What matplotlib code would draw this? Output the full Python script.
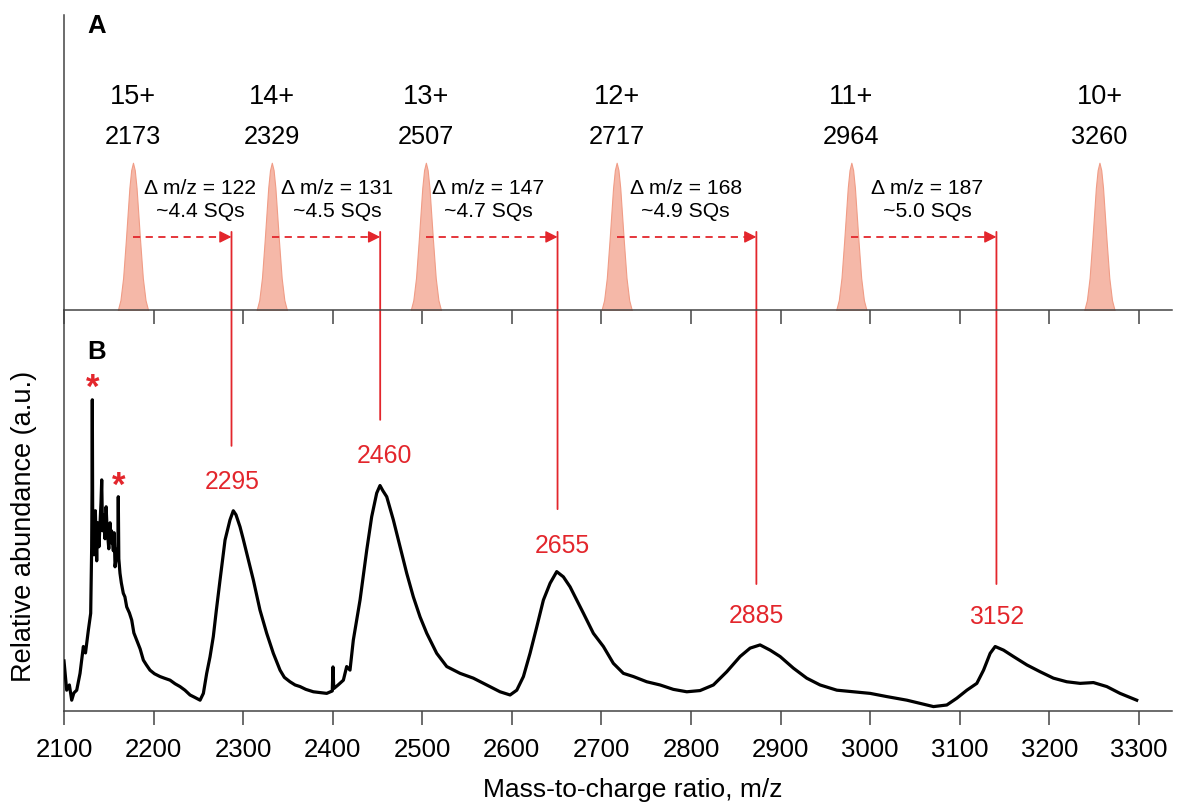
import numpy as np
import matplotlib.pyplot as plt
from matplotlib.patches import ConnectionPatch

plt.rcParams['font.family'] = ['Liberation Sans', 'DejaVu Sans']

RED = '#e3262c'
AXC = '#444444'

# panel A: theoretical charge-state peaks
charges = ['15+', '14+', '13+', '12+', '11+', '10+']
peak_labels = ['2173', '2329', '2507', '2717', '2964', '3260']
peak_mz = [2177, 2332, 2504, 2717, 2979, 3256]
peak_height = 0.5
prof_dx = [-17, -14, -11, -8, -6, -4, -2, 0, 2, 4, 6, 8, 11, 14, 17]
prof_h = [0.0, 0.07, 0.22, 0.47, 0.65, 0.83, 0.95, 1.0, 0.95, 0.83, 0.65, 0.47, 0.22, 0.07, 0.0]

delta_text = ['\u0394 m/z = 122\n~4.4 SQs', '\u0394 m/z = 131\n~4.5 SQs', '\u0394 m/z = 147\n~4.7 SQs',
              '\u0394 m/z = 168\n~4.9 SQs', '\u0394 m/z = 187\n~5.0 SQs']
delta_x = [2252, 2405, 2574, 2794, 3064]

# panel B: observed peaks
obs_mz = [2287, 2453, 2651, 2873, 3141]
obs_top = [66.2, 72.7, 50.4, 31.7, 31.7]
obs_labels = ['2295', '2460', '2655', '2885', '3152']
obs_label_x = [2288, 2458, 2656, 2873, 3141]
obs_label_y = [57.3, 63.7, 41.3, 23.7, 23.5]

# spectrum
spec_mz = [2100, 2101, 2103, 2106, 2108.6, 2111, 2114.2, 2117.9, 2121.6, 2124, 2127.2, 2129.8, 2130.9,
           2131.3, 2131.6, 2132.0, 2132.7, 2133.5, 2135, 2136.5, 2137.5, 2139, 2140.2, 2141.3, 2142.1,
           2143, 2144, 2145.8, 2147, 2148, 2150, 2151.4, 2152.5, 2153, 2155.1, 2156, 2157, 2158.8,
           2160.2, 2160.6, 2161.2, 2162.5, 2164, 2166.2, 2168, 2170, 2173, 2175.6, 2178, 2181.2, 2185,
           2188.6, 2192, 2196, 2201, 2207.2, 2212, 2218.4, 2224, 2229.5, 2235, 2240.7, 2246, 2251.9,
           2255.6, 2259.3, 2263, 2266.7, 2270, 2274.2, 2279.8, 2285.3, 2289, 2292, 2296.5, 2300, 2304,
           2311.4, 2318.8, 2326.3, 2333.7, 2341.2, 2346, 2352.3, 2358, 2363.5, 2370, 2378.4, 2386,
           2393.3, 2399.5, 2400.3, 2401.2, 2406, 2411.9, 2415.6, 2419.3, 2423, 2430.5, 2438, 2443.5,
           2449.1, 2452.8, 2456, 2460.3, 2467.7, 2475.2, 2482.6, 2490, 2497.5, 2505, 2516.1, 2527.3,
           2542.2, 2557, 2572, 2586.8, 2598, 2605.5, 2612.9, 2620.3, 2627.8, 2635.2, 2642.7, 2650.1,
           2657.5, 2665, 2672.5, 2679.9, 2691, 2702.2, 2713.3, 2724.5, 2735.7, 2750.6, 2765.5, 2780.3,
           2795.3, 2810.1, 2825, 2839.9, 2854.8, 2866, 2877.1, 2888.3, 2899.5, 2914.3, 2929.2, 2944.1,
           2962.8, 2981.3, 3000, 3018.6, 3041, 3055.8, 3070.7, 3085.6, 3096.8, 3108, 3119.1, 3126.6,
           3134, 3139.6, 3148.9, 3160, 3175, 3189.8, 3204.6, 3219.5, 3234.4, 3249.3, 3264.2, 3279,
           3297.6]
spec_ab = [12.5, 10.0, 5.2, 6.5, 2.7, 4.5, 5.2, 9.4, 16.1, 14.5, 20.2, 24.4, 41.0,
           55.0, 77.7, 50.0, 45.2, 39.0, 50.0, 37.5, 47.0, 41.0, 46.9, 52.0, 57.7,
           45.0, 49.0, 43.0, 51.0, 46.0, 40.5, 47.0, 42.0, 45.0, 40.0, 44.5, 36.0, 39.0,
           41.0, 53.5, 38.0, 34.4, 32.0, 29.4, 28.5, 26.0, 24.5, 22.7, 19.5, 17.7, 15.5,
           12.7, 11.5, 10.2, 9.3, 8.6, 8.2, 7.7, 6.8, 6.1, 5.2, 4.0, 3.4, 2.7,
           4.4, 9.4, 13.5, 18.6, 25.0, 32.7, 42.7, 47.7, 50.0, 49.0, 46.0, 43.0, 39.4,
           32.7, 25.2, 19.4, 14.4, 10.2, 8.4, 7.3, 6.5, 6.1, 5.4, 4.8, 4.6,
           4.4, 5.0, 11.0, 5.6, 6.5, 7.7, 11.1, 10.2, 17.7, 27.7, 40.2, 48.5,
           54.4, 56.3, 55.0, 53.5, 47.7, 41.0, 34.4, 28.5, 23.5, 19.4, 14.4, 11.1,
           9.4, 8.2, 6.5, 4.8, 4.0, 5.2, 8.6, 14.4, 21.0, 27.7, 31.9, 34.8,
           33.5, 31.0, 27.7, 24.4, 19.4, 16.1, 11.9, 9.4, 8.6, 7.3, 6.5, 5.4,
           4.8, 5.1, 6.5, 9.8, 13.6, 15.7, 16.5, 15.2, 13.6, 10.7, 8.2, 6.5,
           5.2, 4.8, 4.4, 3.6, 2.7, 1.9, 1.1, 1.5, 3.2, 5.2, 6.9, 10.2,
           14.4, 16.1, 15.2, 13.6, 11.5, 9.8, 8.2, 7.3, 6.9, 7.1, 6.1, 4.4,
           2.7]

ticks = list(range(2100, 3301, 100))

fig = plt.figure(figsize=(11.84, 8.05), dpi=100)
x0, x1 = 64 / 1184, 1172 / 1184
yb, ym, yt = 1 - 711 / 805, 1 - 310.5 / 805, 1 - 15 / 805
axB = fig.add_axes([x0, yb, x1 - x0, ym - yb])
axA = fig.add_axes([x0, ym, x1 - x0, yt - ym])
axA.set_zorder(2)
axA.patch.set_alpha(0)
xlim = (2100, 3337)

for ax in (axA, axB):
    ax.set_xlim(*xlim)
    for s in ('top', 'right'):
        ax.spines[s].set_visible(False)
    for s in ('left', 'bottom'):
        ax.spines[s].set_color(AXC)
        ax.spines[s].set_linewidth(1.1)
    ax.set_xticks(ticks)
    ax.tick_params(axis='x', direction='out', length=10, width=1.1, color=AXC)
    ax.set_yticks([])

# panel A
axA.set_ylim(0, 1)
axA.set_xticklabels([])
for c, lab, mz in zip(charges, peak_labels, peak_mz):
    xs = [mz + d for d in prof_dx]
    ys = [peak_height * h for h in prof_h]
    axA.fill_between(xs, 0, ys, color='#f5b8a8', edgecolor='#f09c86', lw=0.8, zorder=2)
    axA.text(mz, 0.7225, c, ha='center', va='center', fontsize=19.5)
    axA.text(mz, 0.587, lab, ha='center', va='center', fontsize=18.3)

arrow_y = 0.249
for i, txt in enumerate(delta_text):
    axA.text(delta_x[i], 0.374, txt, ha='center', va='center', fontsize=15.2, linespacing=1.22)
    xa, xb = peak_mz[i], obs_mz[i]
    axA.plot([xa, xb - 10], [arrow_y, arrow_y], color=RED, lw=1.3, ls=(0, (4, 3)), zorder=3)
    axA.annotate('', xy=(xb, arrow_y), xytext=(xb - 12, arrow_y),
                 arrowprops=dict(arrowstyle='-|>', color=RED, lw=1.0, mutation_scale=18,
                                 shrinkA=0, shrinkB=0))
    con = ConnectionPatch(xyA=(xb, 0.266), coordsA=axA.transData,
                          xyB=(xb, obs_top[i]), coordsB=axB.transData,
                          color=RED, lw=1.3)
    fig.add_artist(con)

axA.text(2137, 0.963, 'A', ha='center', va='center', fontsize=18.5, fontweight='bold')

# panel B
axB.set_ylim(0, 100)
axB.plot(spec_mz, spec_ab, color='black', lw=2.3, zorder=3)
axB.tick_params(axis='x', labelsize=18.5, pad=9.5)
axB.set_xlabel('Mass-to-charge ratio, m/z', fontsize=19)
axB.xaxis.set_label_coords(0.513, -0.168)
axB.set_ylabel('Relative abundance (a.u.)', fontsize=19.5)
axB.yaxis.set_label_coords(-0.024, 0.462)
for lab, x, y in zip(obs_labels, obs_label_x, obs_label_y):
    axB.text(x, y, lab, ha='center', va='center', fontsize=17.8, color=RED)
axB.text(2131.6, 78.3, '*', ha='center', va='baseline', fontsize=25, fontweight='bold', color=RED)
axB.text(2160.6, 53.6, '*', ha='center', va='baseline', fontsize=25, fontweight='bold', color=RED)
axB.text(2136, 89.6, 'B', ha='center', va='center', fontsize=18.5, fontweight='bold')

fig.savefig('out.png', dpi=100)
